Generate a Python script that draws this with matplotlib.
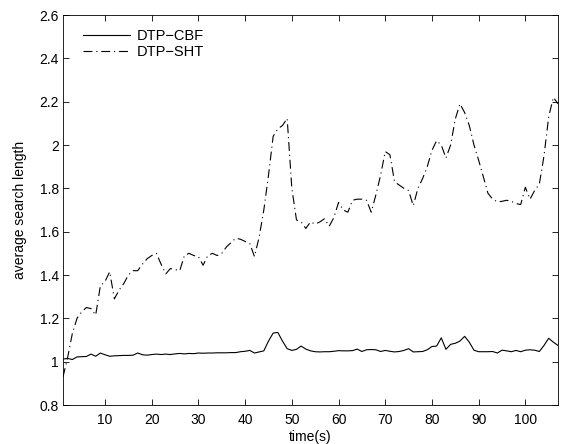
import matplotlib
matplotlib.use("Agg")
import matplotlib.pyplot as plt

plt.rcParams["font.family"] = ["Liberation Sans", "DejaVu Sans"]

time_s = list(range(1, 108))

dtp_cbf = [
    1.012, 1.015, 1.010, 1.022, 1.023, 1.024, 1.035, 1.025, 1.040, 1.032,
    1.025, 1.027, 1.028, 1.029, 1.029, 1.030, 1.040, 1.032, 1.030, 1.033,
    1.035, 1.033, 1.035, 1.033, 1.036, 1.038, 1.036, 1.038, 1.037, 1.040,
    1.039, 1.040, 1.040, 1.041, 1.041, 1.041, 1.042, 1.042, 1.046, 1.048,
    1.052, 1.040, 1.045, 1.050, 1.095, 1.132, 1.135, 1.095, 1.060, 1.052,
    1.057, 1.072, 1.058, 1.050, 1.046, 1.045, 1.046, 1.046, 1.048, 1.051,
    1.050, 1.050, 1.051, 1.058, 1.047, 1.055, 1.056, 1.055, 1.047, 1.052,
    1.048, 1.045, 1.047, 1.052, 1.060, 1.045, 1.046, 1.047, 1.055, 1.070,
    1.072, 1.110, 1.057, 1.080, 1.085, 1.095, 1.117, 1.090, 1.053, 1.046,
    1.046, 1.046, 1.047, 1.040, 1.053, 1.050, 1.046, 1.052, 1.046, 1.053,
    1.055, 1.053, 1.047, 1.075, 1.108, 1.090, 1.075,
]

dtp_sht = [
    0.93, 1.02, 1.13, 1.20, 1.23, 1.25, 1.245, 1.215, 1.35, 1.37,
    1.415, 1.29, 1.33, 1.36, 1.40, 1.42, 1.42, 1.45, 1.475, 1.49,
    1.50, 1.45, 1.405, 1.43, 1.425, 1.42, 1.49, 1.50, 1.49, 1.485,
    1.445, 1.49, 1.50, 1.49, 1.50, 1.53, 1.55, 1.57, 1.565, 1.555,
    1.545, 1.485, 1.575, 1.70, 1.86, 2.04, 2.075, 2.09, 2.123, 1.80,
    1.654, 1.645, 1.615, 1.645, 1.635, 1.645, 1.66, 1.625, 1.665, 1.735,
    1.70, 1.69, 1.745, 1.75, 1.75, 1.745, 1.69, 1.77, 1.86, 1.97,
    1.955, 1.83, 1.815, 1.80, 1.79, 1.72, 1.80, 1.845, 1.90, 1.975,
    2.02, 2.00, 1.94, 2.00, 2.12, 2.19, 2.15, 2.09, 2.00, 1.93,
    1.854, 1.777, 1.75, 1.738, 1.74, 1.745, 1.74, 1.73, 1.725, 1.805,
    1.75, 1.79, 1.82, 1.95, 2.13, 2.22, 2.19,
]

x_ticks = [10, 20, 30, 40, 50, 60, 70, 80, 90, 100]
y_ticks = [0.8, 1.0, 1.2, 1.4, 1.6, 1.8, 2.0, 2.2, 2.4, 2.6]
y_tick_labels = ["0.8", "1", "1.2", "1.4", "1.6", "1.8", "2", "2.2", "2.4", "2.6"]

fig = plt.figure(figsize=(5.64, 4.44), dpi=100)
ax = fig.add_axes([0.1117, 0.0878, 0.8777, 0.8784])

ax.plot(time_s, dtp_cbf, color="black", lw=0.8, linestyle="-", label="DTP\u2212CBF")
ax.plot(time_s, dtp_sht, color="black", lw=0.8, linestyle=(0, (8, 3.5, 1, 3.5)), label="DTP\u2212SHT")

ax.set_xlim(1, 107)
ax.set_ylim(0.8, 2.6)
ax.set_xticks(x_ticks)
ax.set_yticks(y_ticks)
ax.set_yticklabels(y_tick_labels)
ax.tick_params(direction="in", top=True, right=True, labelsize=10, length=4, width=0.6)
ax.tick_params(axis="x", pad=5.5)
ax.tick_params(axis="y", pad=3)
for spine in ax.spines.values():
    spine.set_linewidth(0.6)

ax.set_xlabel("time(s)", fontsize=10, labelpad=2.5)
ax.set_ylabel("average search length", fontsize=10, labelpad=9)

ax.legend(loc="upper left", bbox_to_anchor=(0.029, 0.978), frameon=False, fontsize=10.5,
          handlelength=3.2, borderaxespad=0, borderpad=0.4, labelspacing=0.1,
          handletextpad=0.45)

fig.savefig("out.png", dpi=100)
